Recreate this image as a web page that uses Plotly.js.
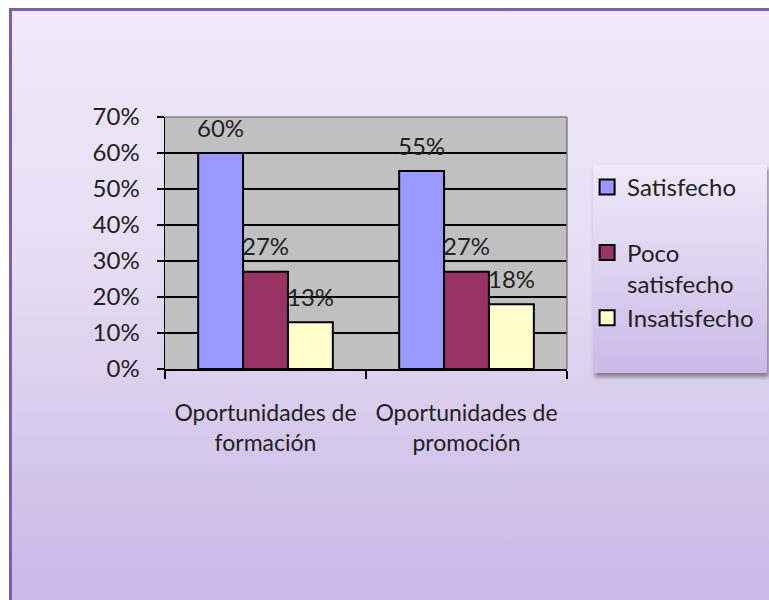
<!DOCTYPE html>
<html>
<head>
<meta charset="utf-8">
<script src="https://cdn.plot.ly/plotly-3.0.1.min.js"></script>
<style>
  html, body { margin: 0; padding: 0; width: 769px; height: 600px; overflow: hidden; background: #ffffff; }
  #frame {
    position: absolute; left: 9px; top: 8px; width: 800px; height: 640px;
    border: 3px solid #7b5fae; box-sizing: border-box;
    background: linear-gradient(to bottom, #efe9f8 0px, #e6ddf3 250px, #d3c4ea 470px, #c7b3e5 640px);
  }
  #legendbox {
    position: absolute; left: 593px; top: 165px; width: 174px; height: 208px;
    background: linear-gradient(to bottom, #efe9f8, #cbbae8);
    box-shadow: 2px 4px 4px rgba(60,60,60,0.55);
  }
  #chart { position: absolute; left: 0; top: 0; width: 769px; height: 600px; }
</style>
</head>
<body>
<div id="frame"></div>
<div id="legendbox"></div>
<div id="chart"></div>
<script>
const categories = ["Oportunidades de<br>formación", "Oportunidades de<br>promoción"];
const seriesNames = ["Satisfecho", "Poco satisfecho", "Insatisfecho"];
const legendLabels = ["Satisfecho<br> ", "Poco<br>satisfecho", "Insatisfecho"];
const satisfecho = [0.60, 0.55];
const pocoSatisfecho = [0.27, 0.27];
const insatisfecho = [0.13, 0.18];
const yTickValues = [0, 0.1, 0.2, 0.3, 0.4, 0.5, 0.6, 0.7];
const yTickLabels = ["0%", "10%", "20%", "30%", "40%", "50%", "60%", "70%"];

const seriesValues = [satisfecho, pocoSatisfecho, insatisfecho];
const colors = ["#9999ff", "#993366", "#ffffcc"];
const FONT = "Lato, 'Open Sans', sans-serif";
const FS = 24;

const traces = seriesValues.map((vals, i) => ({
  type: "bar",
  name: seriesNames[i],
  x: categories,
  y: vals,
  marker: { color: colors[i], line: { color: "#000000", width: 2 } },
  showlegend: false,
  hoverinfo: "skip"
}));

// legend-only entries with larger square symbols
seriesValues.forEach((vals, i) => {
  traces.push({
    type: "scatter", mode: "markers",
    name: legendLabels[i],
    x: [null], y: [null],
    marker: { symbol: "square", size: 15, color: colors[i], line: { color: "#000", width: 2 } },
    legendgroup: "g" + i,
    showlegend: true,
    hoverinfo: "skip"
  });
});

const bargap = 0.33;
const nSeries = seriesValues.length;
const barW = (1 - bargap) / nSeries;
const annotations = [];
seriesValues.forEach((vals, i) => {
  vals.forEach((v, j) => {
    annotations.push({
      x: j + (i - (nSeries - 1) / 2) * barW,
      y: v,
      xref: "x", yref: "y",
      text: Math.round(v * 100) + "%",
      showarrow: false,
      yshift: 26,
      font: { family: FONT, size: FS, color: "#222222" }
    });
  });
});

const layout = {
  width: 769, height: 600,
  margin: { l: 165, r: 202, t: 117, b: 231, pad: 0, autoexpand: false },
  paper_bgcolor: "rgba(0,0,0,0)",
  plot_bgcolor: "#c0c0c0",
  barmode: "group",
  bargap: bargap,
  bargroupgap: 0,
  font: { family: FONT, size: FS, color: "#222222" },
  xaxis: {
    type: "category",
    tickson: "boundaries",
    ticks: "outside", ticklen: 8, tickwidth: 1.5, tickcolor: "#000",
    showline: true, linecolor: "#000", linewidth: 1.5,
    showgrid: false,
    ticklabelstandoff: 23,
    tickfont: { family: FONT, size: 23, color: "#222" },
    fixedrange: true
  },
  yaxis: {
    range: [0, 0.7],
    tickvals: yTickValues, ticktext: yTickLabels,
    ticks: "outside", ticklen: 7, tickwidth: 1.5, tickcolor: "#000",
    showline: true, linecolor: "#000", linewidth: 1.5,
    showgrid: true, gridcolor: "#000000", gridwidth: 1.2,
    zeroline: false,
    ticklabelstandoff: 12,
    tickfont: { family: FONT, size: FS, color: "#222" },
    fixedrange: true
  },
  showlegend: true,
  legend: {
    x: 1.05, xanchor: "left",
    y: 0.81, yanchor: "top",
    bgcolor: "rgba(0,0,0,0)",
    borderwidth: 0,
    valign: "top",
    font: { family: FONT, size: FS, color: "#222" },
    tracegroupgap: 16,
    traceorder: "normal",
    itemclick: false, itemdoubleclick: false
  },
  shapes: [
    { type: "line", xref: "paper", yref: "paper", x0: 0, x1: 1, y0: 1, y1: 1, line: { color: "#808080", width: 1.5 }, layer: "above" },
    { type: "line", xref: "paper", yref: "paper", x0: 1, x1: 1, y0: 0, y1: 1, line: { color: "#808080", width: 1.5 }, layer: "above" }
  ],
  annotations: annotations
};

Plotly.newPlot("chart", traces, layout, { displayModeBar: false, staticPlot: true });
</script>
</body>
</html>
